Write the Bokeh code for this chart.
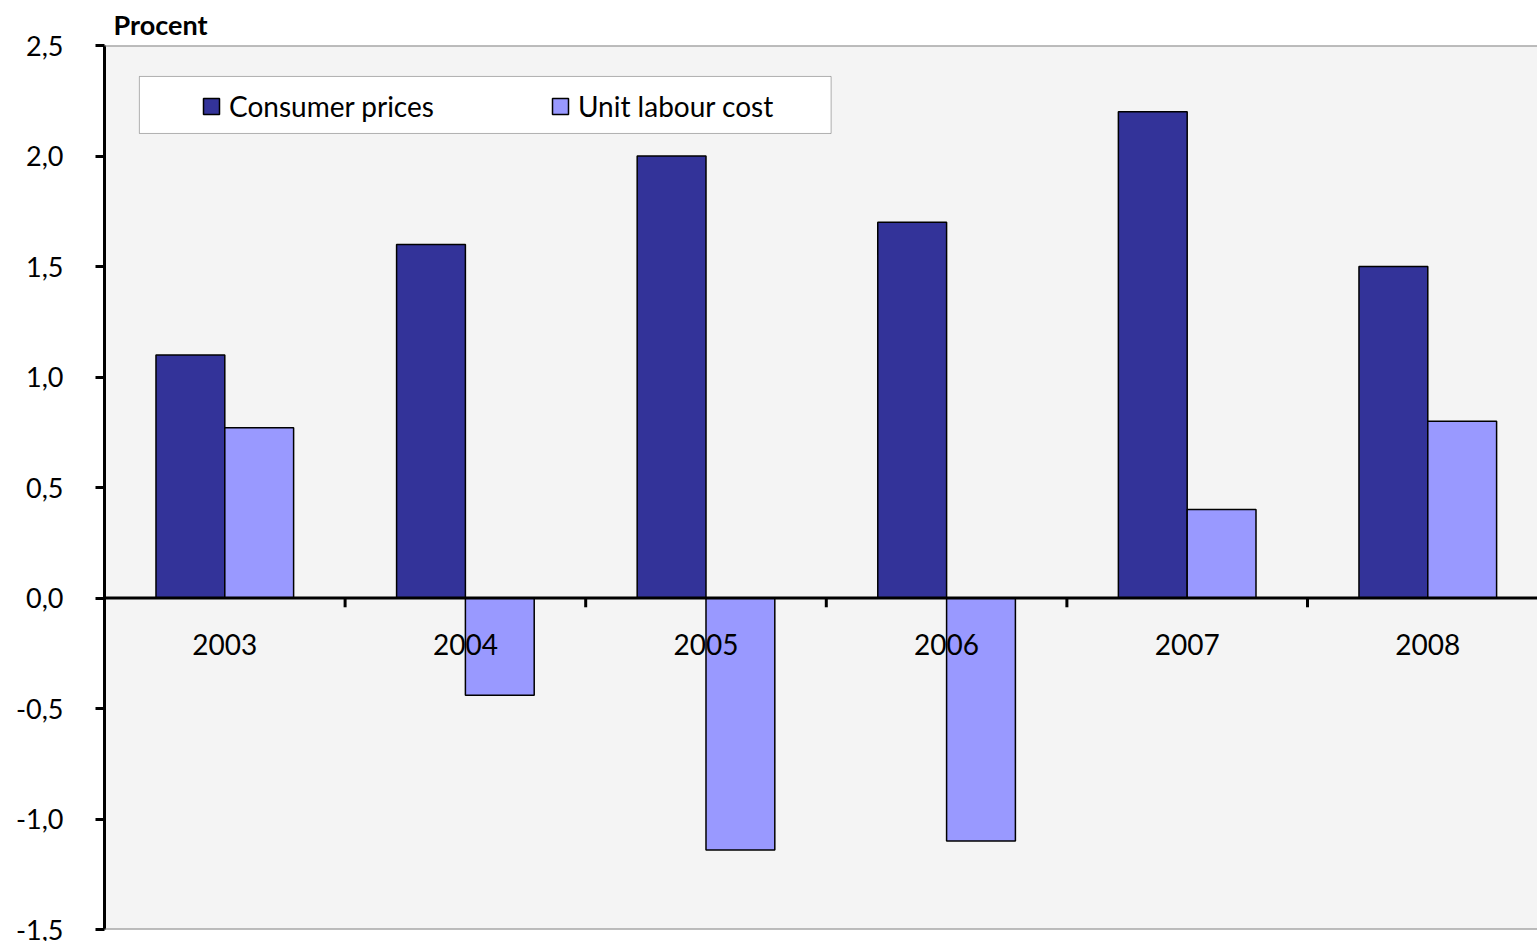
from bokeh.plotting import figure
from bokeh.models import (Range1d, FixedTicker, CustomJSTickFormatter, Span, Legend,
                          LegendItem, BoxAnnotation, ColumnDataSource)
from bokeh.core.properties import value
from bokeh.embed import file_html
from bokeh.resources import INLINE

years = ["2003", "2004", "2005", "2006", "2007", "2008"]
consumer_prices = [1.10, 1.60, 2.00, 1.70, 2.20, 1.50]
unit_labour_cost = [0.77, -0.44, -1.14, -1.10, 0.40, 0.80]
y_ticks = [-1.5, -1.0, -0.5, 0.0, 0.5, 1.0, 1.5, 2.0, 2.5]

FONT = "Lato"
DARK = "#333399"
LIGHT = "#9999ff"
BAR_W = 0.286

centers = [i + 0.5 for i in range(len(years))]
src = ColumnDataSource(dict(
    year=years,
    xc=[c - BAR_W / 2 for c in centers],
    xu=[c + BAR_W / 2 for c in centers],
    xm=centers,
    cp=consumer_prices,
    ulc=unit_labour_cost,
    zero=[0.0] * len(years),
))

p = figure(width=1537, height=941, output_backend="svg", toolbar_location=None,
           x_range=Range1d(0, 5.956), y_range=Range1d(-1.5, 2.5),
           min_border_left=104, min_border_right=0, min_border_top=45,
           min_border_bottom=12)
p.background_fill_color = "#f4f4f4"
p.border_fill_color = "white"
p.outline_line_color = None
p.grid.visible = False
p.xaxis.visible = False

p.title.text = "Procent"
p.title.align = "left"
p.title.offset = 9
p.title.standoff = 10
p.title.text_font = FONT
p.title.text_font_size = "27px"
p.title.text_font_style = "bold"
p.title.text_color = "black"

ya = p.yaxis[0]
ya.ticker = FixedTicker(ticks=y_ticks)
ya.formatter = CustomJSTickFormatter(code="return tick.toFixed(1).replace('.', ',');")
ya.axis_line_color = "black"
ya.axis_line_width = 3
ya.major_tick_line_color = "black"
ya.major_tick_line_width = 3
ya.major_tick_out = 9
ya.major_tick_in = 0
ya.minor_tick_line_color = None
ya.major_label_standoff = 32
ya.major_label_text_font = FONT
ya.major_label_text_font_size = "27px"
ya.major_label_text_color = "black"

# frame edges at top and bottom
for yv in (2.5, -1.5):
    p.add_layout(Span(location=yv, dimension="width", line_color="#808080", line_width=2))

r_cp = p.vbar(x="xc", top="cp", bottom="zero", width=BAR_W, source=src,
              fill_color=DARK, line_color="black", line_width=1.5)
r_ulc = p.vbar(x="xu", top="ulc", bottom="zero", width=BAR_W, source=src,
               fill_color=LIGHT, line_color="black", line_width=1.5)

# zero line with category separators
p.add_layout(Span(location=0, dimension="width", line_color="black", line_width=3))
p.segment(x0=[1, 2, 3, 4, 5], y0=[0] * 5, x1=[1, 2, 3, 4, 5], y1=[-0.042] * 5,
          line_color="black", line_width=3)

p.text(x="xm", y="zero", text="year", source=src, y_offset=46,
       text_align="center", text_baseline="middle",
       text_font=value(FONT), text_font_size="28px", text_color="black")

# legend box
p.add_layout(BoxAnnotation(left=0.145, right=3.02, bottom=2.102, top=2.36,
                           fill_color="white", fill_alpha=1.0,
                           line_color="black", line_width=1, level="overlay"))
legend = Legend(items=[LegendItem(label="Consumer prices", renderers=[r_cp]),
                       LegendItem(label="Unit labour cost", renderers=[r_ulc])],
                orientation="horizontal", location=(97, 806),
                padding=0, margin=0, spacing=116, label_standoff=8,
                glyph_width=20, glyph_height=20,
                background_fill_alpha=0, border_line_alpha=0,
                label_text_font=FONT, label_text_font_size="28px",
                label_text_color="black")
p.add_layout(legend, "center")

open("out.html", "w").write(file_html(p, INLINE))
